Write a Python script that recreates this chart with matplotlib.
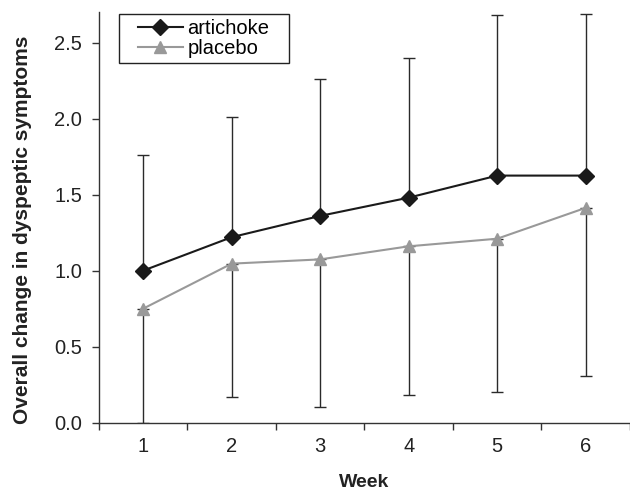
import matplotlib
matplotlib.use("Agg")
import matplotlib.pyplot as plt
from matplotlib.patches import Rectangle
import numpy as np

plt.rcParams['font.family'] = ['Liberation Sans', 'DejaVu Sans']

weeks = [1, 2, 3, 4, 5, 6]
week_labels = ["1", "2", "3", "4", "5", "6"]
artichoke = [1.00, 1.22, 1.36, 1.48, 1.625, 1.625]
artichoke_upper = [1.76, 2.01, 2.26, 2.40, 2.68, 2.69]
placebo = [0.75, 1.046, 1.074, 1.16, 1.21, 1.413]
placebo_lower = [0.0, 0.17, 0.105, 0.18, 0.20, 0.306]
yticks = [0.0, 0.5, 1.0, 1.5, 2.0, 2.5]

fig = plt.figure(figsize=(6.3, 4.9), dpi=100)
ax = fig.add_axes([0.157, 0.1373, 0.843, 0.838])

x = np.array(weeks)
a = np.array(artichoke)
p = np.array(placebo)

err_col = '#2a2a2a'
ax.errorbar(x, a, yerr=[np.zeros_like(a), np.array(artichoke_upper) - a],
            fmt='none', ecolor=err_col, elinewidth=1.0, capsize=4.5, capthick=1.0, zorder=1)
ax.errorbar(x, p, yerr=[p - np.array(placebo_lower), np.zeros_like(p)],
            fmt='none', ecolor=err_col, elinewidth=1.0, capsize=4.5, capthick=1.0, zorder=1)

ax.plot(x, a, color='#1a1a1a', lw=1.5, marker='D', ms=8, mfc='#1a1a1a', mec='#1a1a1a',
        label='artichoke', zorder=3)
ax.plot(x, p, color='#999999', lw=1.5, marker='^', ms=8.5, mfc='#999999', mec='#999999',
        label='placebo', zorder=2)

ax.set_xlim(0.5, 6.5)
ax.set_ylim(0, 2.7)
ax.set_yticks(yticks)
ax.set_yticklabels([f"{v:.1f}" for v in yticks])
ax.set_xticks(weeks)
ax.set_xticklabels(week_labels)
ax.set_xticks(np.arange(0.5, 7.0, 1.0), minor=True)
ax.tick_params(axis='x', which='major', length=0, labelsize=14.5, pad=10.5, colors='#222222')
ax.tick_params(axis='x', which='minor', length=5, width=1, color='#333333', direction='out')
ax.tick_params(axis='y', which='major', length=5, width=1, color='#333333', labelsize=14.5,
               pad=7, labelcolor='#222222')

for s in ['top', 'right']:
    ax.spines[s].set_visible(False)
for s in ['left', 'bottom']:
    ax.spines[s].set_color('#333333')
    ax.spines[s].set_linewidth(1.0)

ax.set_ylabel('Overall change in dyspeptic symptoms', fontsize=15, fontweight='bold',
              color='#222222')
ax.yaxis.set_label_coords(-0.126, 0.47)
ax.set_xlabel('Week', fontsize=14, fontweight='bold', color='#222222', labelpad=13)

leg = ax.legend(loc='upper left', bbox_to_anchor=(0.074, 0.984), fontsize=14.5, frameon=False,
                borderpad=0.0, labelspacing=0.05, handlelength=2.2, handletextpad=0.25,
                borderaxespad=0.0)

# frame drawn around the legend in pixel units
fig.canvas.draw()
bb = leg.get_window_extent()
padx, pady = 19, 5
inv = fig.transFigure.inverted()
x0, y0 = inv.transform((bb.x0 - padx, bb.y0 - pady))
x1, y1 = inv.transform((bb.x1 + padx, bb.y1 + pady))
fig.patches.append(Rectangle((x0, y0), x1 - x0, y1 - y0, transform=fig.transFigure,
                             fill=False, edgecolor='#222222', lw=1.0, zorder=5))

fig.savefig('out.png', dpi=100)
